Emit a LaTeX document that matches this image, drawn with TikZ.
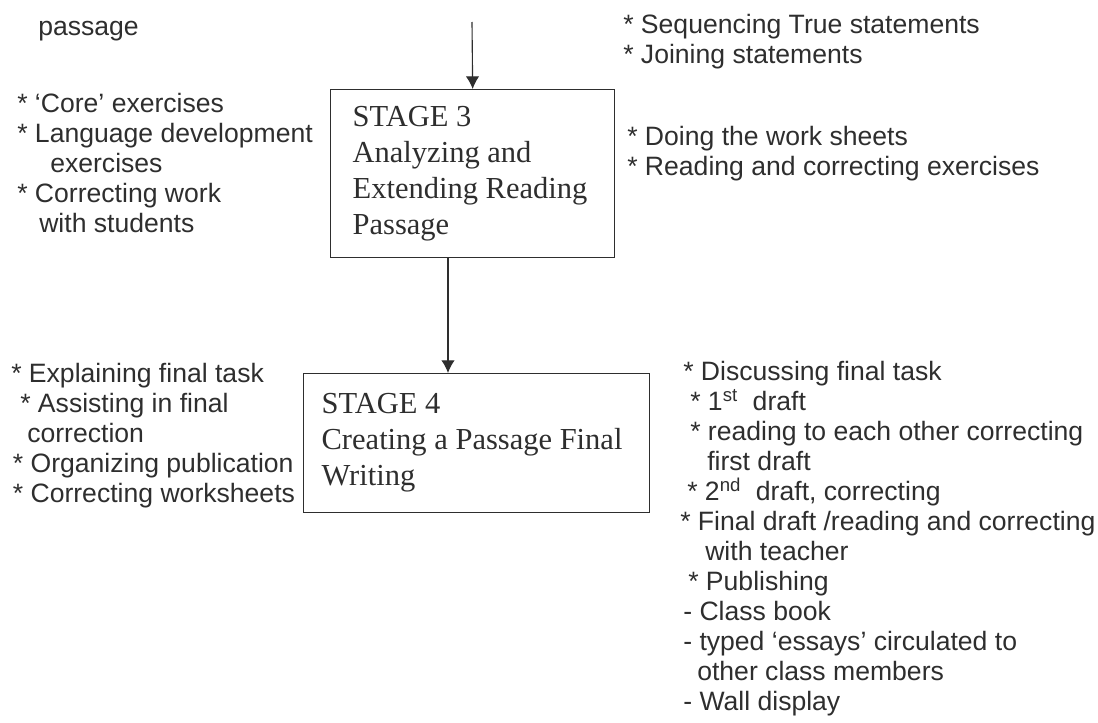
\documentclass[tikz,border=0pt]{standalone}
\usepackage{fontspec}
\setmainfont{Liberation Sans}
\newfontfamily\stagefont{Liberation Serif}
\usetikzlibrary{arrows.meta}
\definecolor{ink}{HTML}{2E2E2E}
\tikzstyle{none}=[inner sep=0pt]
\tikzstyle{note}=[inner sep=0pt, anchor=north west, align=left, text=ink, font=\fontsize{18.9}{21.3}\selectfont]
\tikzstyle{stage}=[draw=ink, line width=0.9pt, anchor=north west, align=flush left, text=ink, inner ysep=0pt, font=\stagefont\fontsize{21.7}{25.6}\selectfont]
\tikzstyle{arrow}=[-{Latex[length=9pt,width=9.5pt]}, draw=ink, line width=0.8pt]

\begin{document}
\begin{tikzpicture}[x=0.025cm, y=-0.025cm]
 \useasboundingbox (0,0) rectangle (1098,723);
 \node [style=note, anchor=base west] (0) at (38, 35) {passage};
 \node [style=note] (1) at (623, 14) {* Sequencing True statements\\* Joining statements};
 \node [style=none] (2) at (472, 22) {};
 \node [style=stage, inner xsep=0.55cm, text width=6cm, minimum height=4.2cm] (3) at (330, 89)
   {STAGE 3\\Analyzing and\\Extending Reading\\Passage};
 \node [style=note] (4) at (17, 93) {* ‘Core’ exercises\\* Language development\\\hspace*{0.825cm}exercises\\* Correcting work\\\hspace*{0.55cm}with students};
 \node [style=note] (5) at (627, 126) {* Doing the work sheets\\* Reading and correcting exercises};
 \node [style=none] (6) at (448, 257) {};
 \node [style=stage, inner xsep=0.45cm, text width=7.75cm, minimum height=3.475cm] (7) at (303, 373)
   {STAGE 4\\Creating a Passage Final\\Writing};
 \node [style=note] (8) at (11, 363) {* Explaining final task\\\hspace*{0.225cm}* Assisting in final\\\hspace*{0.4cm}correction\\\hspace*{0.04cm}* Organizing publication\\\hspace*{0.04cm}* Correcting worksheets};
 \node [style=note] (9) at (683, 361) {* Discussing final task\\
   \hspace*{0.175cm}* 1\textsuperscript{st}\ \ draft\\
   \hspace*{0.175cm}* reading to each other correcting\\
   \hspace*{0.6cm}first draft\\
   \hspace*{0.1cm}* 2\textsuperscript{nd}\ \ draft, correcting\\
   \hspace*{-0.075cm}* Final draft /reading and correcting\\
   \hspace*{0.55cm}with teacher\\
   \hspace*{0.125cm}* Publishing\\
   - Class book\\
   - typed ‘essays’ circulated to\\
   \hspace*{0.35cm}other class members\\
   - Wall display};
 \draw [style=arrow] (2.center) to (3.north);
 \draw [style=arrow] (6.center) to (7.north -| 6.center);
\end{tikzpicture}
\end{document}
